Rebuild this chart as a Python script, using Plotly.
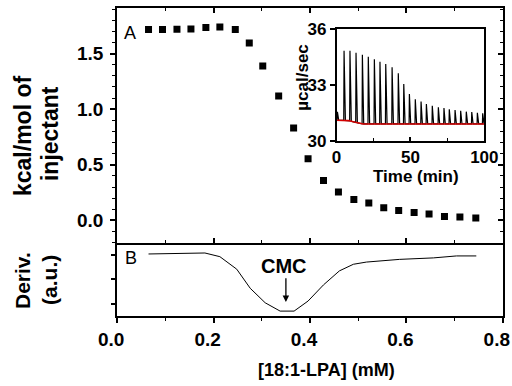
import numpy as np
import plotly.graph_objects as go

# ---- Panel A: integrated heats ----
conc_a = [0.065, 0.094, 0.124, 0.153, 0.184, 0.213, 0.245, 0.274, 0.302, 0.335,
          0.366, 0.396, 0.428, 0.459, 0.491, 0.522, 0.553, 0.584, 0.616, 0.647,
          0.679, 0.711, 0.744]
heat_a = [1.716, 1.716, 1.719, 1.722, 1.734, 1.740, 1.716, 1.596, 1.389, 1.119,
          0.831, 0.555, 0.360, 0.255, 0.189, 0.156, 0.114, 0.090, 0.072, 0.057,
          0.036, 0.030, 0.021]

# ---- Panel B: derivative ----
conc_b = [0.065, 0.182, 0.213, 0.248, 0.276, 0.307, 0.338, 0.367, 0.396, 0.428,
          0.461, 0.490, 0.517, 0.586, 0.656, 0.704, 0.745]
deriv_b = [0.04, 0.08, -0.07, -0.58, -1.36, -1.95, -2.29, -2.29, -1.88, -1.22,
           -0.65, -0.38, -0.29, -0.18, -0.12, -0.04, -0.04]

# ---- Inset: raw ITC thermogram ----
peak_t = [0.6, 5.1, 9.1, 13.2, 17.5, 21.5, 25.6, 29.4, 33.3, 37.6, 41.8, 45.5, 49.3,
          53.3, 57.2, 60.8, 64.8, 68.9, 72.7, 76.3, 80.2, 84.0, 87.8, 91.5, 95.3, 98.9]
peak_h = [31.55, 34.83, 34.83, 34.73, 34.62, 34.51, 34.37, 34.24, 34.12, 33.94, 33.62,
          33.05, 32.51, 32.22, 32.10, 31.97, 31.88, 31.79, 31.76, 31.69, 31.65, 31.61,
          31.56, 31.54, 31.50, 31.47]
base_t = [0, 8, 12, 18, 100]
base_v = [31.10, 31.08, 31.00, 30.90, 30.90]

x_ticks = [0.0, 0.2, 0.4, 0.6, 0.8]
y_ticks_a = [0.0, 0.5, 1.0, 1.5]

# build thermogram line from peaks and baseline
sx, sy = [0.0], [base_v[0]]
for t, h in zip(peak_t, peak_h):
    b0 = float(np.interp(t - 0.2, base_t, base_v))
    b1 = float(np.interp(t + 0.9, base_t, base_v))
    sx += [t - 0.2, t, t + 0.9]
    sy += [b0, h, b1]
sx.append(100.0)
sy.append(base_v[-1])

BOLD = dict(family="Liberation Sans", size=19, color="black", weight=700)
fig = go.Figure()

fig.add_trace(go.Scatter(x=conc_a, y=heat_a, mode="markers", xaxis="x2", yaxis="y",
                         marker=dict(symbol="square", size=7, color="black"),
                         hoverinfo="skip"))
fig.add_trace(go.Scatter(x=[], y=[], xaxis="x2", yaxis="y4", hoverinfo="skip"))
fig.add_trace(go.Scatter(x=conc_b, y=deriv_b, mode="lines", xaxis="x", yaxis="y2",
                         line=dict(color="black", width=1), hoverinfo="skip"))
fig.add_trace(go.Scatter(x=sx, y=sy, mode="lines", xaxis="x3", yaxis="y3",
                         line=dict(color="black", width=1.2), hoverinfo="skip"))
fig.add_trace(go.Scatter(x=base_t, y=base_v, mode="lines", xaxis="x3", yaxis="y3",
                         line=dict(color="#d40000", width=1.6), hoverinfo="skip"))

axline = dict(showline=True, linecolor="black", linewidth=1.5, showgrid=False,
              zeroline=False, tickcolor="black", tickwidth=1.5, automargin=False)
XR = [-0.0004, 0.8004]

fig.update_layout(
    template="none",
    width=512, height=386,
    margin=dict(l=117, r=9, t=8, b=70, autoexpand=False),
    plot_bgcolor="white", paper_bgcolor="white",
    showlegend=False,
    xaxis=dict(**axline, domain=[0, 1], anchor="y2", range=XR, tickvals=x_ticks,
               tickformat=".1f", ticks="outside", ticklen=5, mirror=False,
               ticklabeloverflow="allow", ticklabelshift=-6,
               minor=dict(tick0=0, dtick=0.1, ticks="outside", ticklen=3, tickcolor="black", tickwidth=1.2),
               tickfont=BOLD),
    yaxis2=dict(**axline, domain=[0, 0.238], anchor="x", range=[-2.49, 0.5],
                tickvals=[0, -1, -2], showticklabels=False, ticks="outside", ticklen=4,
                mirror=True),
    xaxis2=dict(**axline, domain=[0, 1], anchor="y", range=XR, tickvals=x_ticks,
                showticklabels=False, ticks="inside", ticklen=5, mirror="ticks",
                minor=dict(tick0=0, dtick=0.1, ticks="inside", ticklen=3, tickcolor="black", tickwidth=1.2)),
    yaxis=dict(**axline, domain=[0.238, 1], anchor="x2", range=[-0.2, 1.91], tickvals=y_ticks_a,
               tickformat=".1f", ticks="outside", ticklen=5, mirror=True,
               minor=dict(tick0=0, dtick=0.1, ticks="outside", ticklen=3, tickcolor="black", tickwidth=1.2),
               tickfont=BOLD, ticklabelstandoff=3),
    yaxis4=dict(overlaying="y", side="right", anchor="x2", range=[-0.2, 1.91], tickvals=y_ticks_a,
                ticks="inside", ticklen=5, tickcolor="black", tickwidth=1.5,
                showticklabels=False, showline=False, showgrid=False, zeroline=False,
                automargin=False,
                minor=dict(tick0=0, dtick=0.1, ticks="inside", ticklen=3, tickcolor="black", tickwidth=1.2)),
    xaxis3=dict(**axline, domain=[0.5687, 0.9516], anchor="y3", range=[0, 100],
                tickvals=[0, 50, 100], ticks="inside", ticklen=4, mirror=True,
                ticklabeloverflow="allow",
                minor=dict(dtick=25, ticks="inside", ticklen=3, tickcolor="black", tickwidth=1.2),
                tickfont=dict(BOLD, size=17)),
    yaxis3=dict(**axline, domain=[0.5692, 0.9318], anchor="x3", range=[30, 36],
                tickvals=[30, 33, 36], ticks="outside", ticklen=5, mirror=True,
                tickfont=dict(BOLD, size=17), ticklabelstandoff=0),
)

def ann(text, x, y, size, bold=True, angle=0):
    f = dict(family="Liberation Sans", size=size, color="black")
    if bold:
        f["weight"] = 700
    fig.add_annotation(text=text, x=x, y=y, xref="paper", yref="paper",
                       xanchor="center", yanchor="middle", showarrow=False,
                       textangle=angle, font=f)

ann("kcal/mol of", -0.2435, 0.5844, 23, angle=-90)
ann("injectant", -0.1736, 0.594, 23, angle=-90)
ann("Deriv.", -0.2461, 0.1136, 21, angle=-90)
ann("(a.u.)", -0.1736, 0.117, 21, angle=-90)
ann("[18:1-LPA] (mM)", 0.5415, -0.1753, 18)
ann("Time (min)", 0.7746, 0.4513, 17)
ann("µcal/sec", 0.4811, 0.776, 17, angle=-90)
ann("A", 0.0337, 0.9188, 18, bold=False)
ann("B", 0.0363, 0.1883, 18, bold=False)
ann("CMC", 0.4326, 0.1623, 20)

fig.add_annotation(x=0.35, y=-1.92, xref="x", yref="y2", ax=0.35, ay=-0.886,
                   axref="x", ayref="y2", showarrow=True, arrowhead=2, arrowsize=1,
                   arrowwidth=1.3, arrowcolor="black", text="")

fig.write_html("out.html", config={"displayModeBar": False},
               post_script="document.body.style.margin='0';document.body.style.padding='0';")
